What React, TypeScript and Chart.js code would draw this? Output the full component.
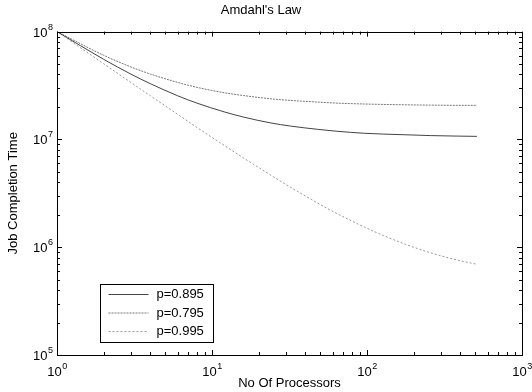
import React, { useEffect, useRef } from "react";
import { Chart, registerables } from "chart.js";

Chart.register(...registerables);

const processors = [1, 2, 3, 4, 6, 8, 12, 16, 24, 32, 48, 64, 96, 128, 192, 256, 384, 512];
const timeP0895 = [1e8, 5.53e7, 4.03e7, 3.29e7, 2.54e7, 2.17e7, 1.8e7, 1.61e7, 1.42e7, 1.33e7, 1.24e7, 1.19e7, 1.14e7, 1.12e7, 1.1e7, 1.085e7, 1.073e7, 1.067e7];
const timeP0795 = [1e8, 6.03e7, 4.7e7, 4.04e7, 3.38e7, 3.04e7, 2.71e7, 2.55e7, 2.38e7, 2.3e7, 2.22e7, 2.17e7, 2.13e7, 2.11e7, 2.09e7, 2.08e7, 2.07e7, 2.07e7];
const timeP0995 = [1e8, 5.03e7, 3.37e7, 2.54e7, 1.71e7, 1.29e7, 8.79e6, 6.72e6, 4.65e6, 3.61e6, 2.57e6, 2.05e6, 1.54e6, 1.28e6, 1.02e6, 8.89e5, 7.59e5, 6.94e5];
const seriesLabels = ["p=0.895", "p=0.795", "p=0.995"];
const xTicks = [1, 10, 100, 1000];
const yTicks = [1e5, 1e6, 1e7, 1e8];

const FONT = "'Liberation Sans', Arial, 'DejaVu Sans', sans-serif";
const expOf = (v: number) => String(Math.round(Math.log10(v)));

const boxPlugin = {
  id: "matlabBox",
  afterDatasetsDraw(chart: any) {
    const { ctx, chartArea: a, scales } = chart;
    ctx.save();
    ctx.strokeStyle = "#000";
    ctx.lineWidth = 1;
    ctx.strokeRect(Math.round(a.left) + 0.5, Math.round(a.top) + 0.5, Math.round(a.right - a.left), Math.round(a.bottom - a.top));
    const minor = [2, 3, 4, 5, 6, 7, 8, 9];
    const xs = scales.x;
    for (let d = 1; d <= 1000; d *= 10) {
      const vals = [d, ...(d < 1000 ? minor.map((m) => m * d) : [])];
      vals.forEach((v, i) => {
        const px = Math.round(xs.getPixelForValue(v)) + 0.5;
        const len = i === 0 ? 5 : 3;
        ctx.beginPath();
        ctx.moveTo(px, a.bottom);
        ctx.lineTo(px, a.bottom - len);
        ctx.moveTo(px, a.top);
        ctx.lineTo(px, a.top + len);
        ctx.stroke();
      });
    }
    const ys = scales.y;
    for (let d = 1e5; d <= 1e8; d *= 10) {
      const vals = [d, ...(d < 1e8 ? minor.map((m) => m * d) : [])];
      vals.forEach((v, i) => {
        const py = Math.round(ys.getPixelForValue(v)) + 0.5;
        const len = i === 0 ? 5 : 3;
        ctx.beginPath();
        ctx.moveTo(a.left, py);
        ctx.lineTo(a.left + len, py);
        ctx.moveTo(a.right, py);
        ctx.lineTo(a.right - len, py);
        ctx.stroke();
      });
    }
    // tick labels with superscript exponents
    ctx.fillStyle = "#000";
    ctx.textBaseline = "alphabetic";
    ctx.textAlign = "left";
    const baseFont = `13px ${FONT}`;
    const expFont = `9px ${FONT}`;
    xs.ticks.forEach((t: any) => {
      const px = xs.getPixelForValue(t.value);
      ctx.font = baseFont;
      const w1 = ctx.measureText("10").width;
      ctx.font = expFont;
      const e = expOf(t.value);
      const w2 = ctx.measureText(e).width;
      const x0 = px - (w1 + w2) / 2;
      ctx.font = baseFont;
      ctx.fillText("10", x0, a.bottom + 21);
      ctx.font = expFont;
      ctx.fillText(e, x0 + w1 + 0.5, a.bottom + 14);
    });
    ys.ticks.forEach((t: any) => {
      const py = ys.getPixelForValue(t.value);
      ctx.font = expFont;
      const e = expOf(t.value);
      const w2 = ctx.measureText(e).width;
      ctx.font = baseFont;
      const w1 = ctx.measureText("10").width;
      const xEnd = a.left - 4;
      ctx.fillText("10", xEnd - w2 - w1 - 0.5, py + 5);
      ctx.font = expFont;
      ctx.fillText(e, xEnd - w2, py - 2);
    });
    // legend
    const lx = Math.round(a.left + 43) + 0.5;
    const ly = Math.round(a.bottom - 71) + 0.5;
    const lw = 113;
    const lh = 58;
    ctx.fillStyle = "#fff";
    ctx.fillRect(lx, ly, lw, lh);
    ctx.strokeStyle = "#000";
    ctx.strokeRect(lx, ly, lw, lh);
    ctx.font = `13px ${FONT}`;
    ctx.textBaseline = "middle";
    ctx.textAlign = "left";
    chart.data.datasets.forEach((ds: any, i: number) => {
      const y = ly + 10 + i * 18.5;
      ctx.strokeStyle = ds.borderColor;
      ctx.lineWidth = 1;
      ctx.setLineDash(ds.borderDash || []);
      ctx.beginPath();
      ctx.moveTo(lx + 8, y);
      ctx.lineTo(lx + 48, y);
      ctx.stroke();
      ctx.setLineDash([]);
      ctx.fillStyle = "#000";
      ctx.fillText(ds.label, lx + 56, y);
    });
    ctx.restore();
  },
};

export default function App() {
  const ref = useRef<HTMLCanvasElement>(null);
  useEffect(() => {
    document.body.style.margin = "0";
    const mk = (arr: number[]) => processors.map((x, i) => ({ x, y: arr[i] }));
    const chart = new Chart(ref.current!, {
      type: "line",
      data: {
        datasets: [
          { label: seriesLabels[0], data: mk(timeP0895), borderColor: "#444", borderWidth: 1, pointRadius: 0, cubicInterpolationMode: "monotone" },
          { label: seriesLabels[1], data: mk(timeP0795), borderColor: "#777", borderWidth: 1, borderDash: [2, 1], pointRadius: 0, cubicInterpolationMode: "monotone" },
          { label: seriesLabels[2], data: mk(timeP0995), borderColor: "#999", borderWidth: 1, borderDash: [2, 2], pointRadius: 0, cubicInterpolationMode: "monotone" },
        ],
      },
      options: {
        animation: false,
        responsive: false,
        maintainAspectRatio: false,
        layout: { padding: { top: 0, right: 10, left: 0, bottom: 0 } },
        plugins: {
          legend: { display: false },
          tooltip: { enabled: false },
          title: {
            display: true,
            text: "Amdahl's Law",
            color: "#000",
            font: { family: FONT, size: 13, weight: "normal", lineHeight: 1.2 },
            padding: { top: 3, bottom: 13 },
          },
        },
        scales: {
          x: {
            type: "logarithmic",
            min: 1,
            max: 1000,
            afterBuildTicks: (s: any) => { s.ticks = xTicks.map((v) => ({ value: v, major: true })); },
            afterFit: (s: any) => { s.height = 37; },
            grid: { display: false },
            border: { display: false },
            ticks: { display: false, autoSkip: false },
            title: { display: true, text: "No Of Processors", color: "#000", font: { family: FONT, size: 13 }, padding: { top: 0, bottom: 1 } },
          },
          y: {
            type: "logarithmic",
            min: 1e5,
            max: 1e8,
            afterBuildTicks: (s: any) => { s.ticks = yTicks.map((v) => ({ value: v, major: true })); },
            afterFit: (s: any) => { s.width = 57; },
            grid: { display: false },
            border: { display: false },
            ticks: { display: false, autoSkip: false },
            title: { display: true, text: "Job Completion Time", color: "#000", font: { family: FONT, size: 13 }, padding: { top: 6, bottom: 0 } },
          },
        },
      },
      plugins: [boxPlugin],
    } as any);
    return () => chart.destroy();
  }, []);
  return (
    <div style={{ width: 532, height: 392, background: "#fff" }}>
      <canvas ref={ref} width={532} height={392} style={{ display: "block" }} />
    </div>
  );
}
